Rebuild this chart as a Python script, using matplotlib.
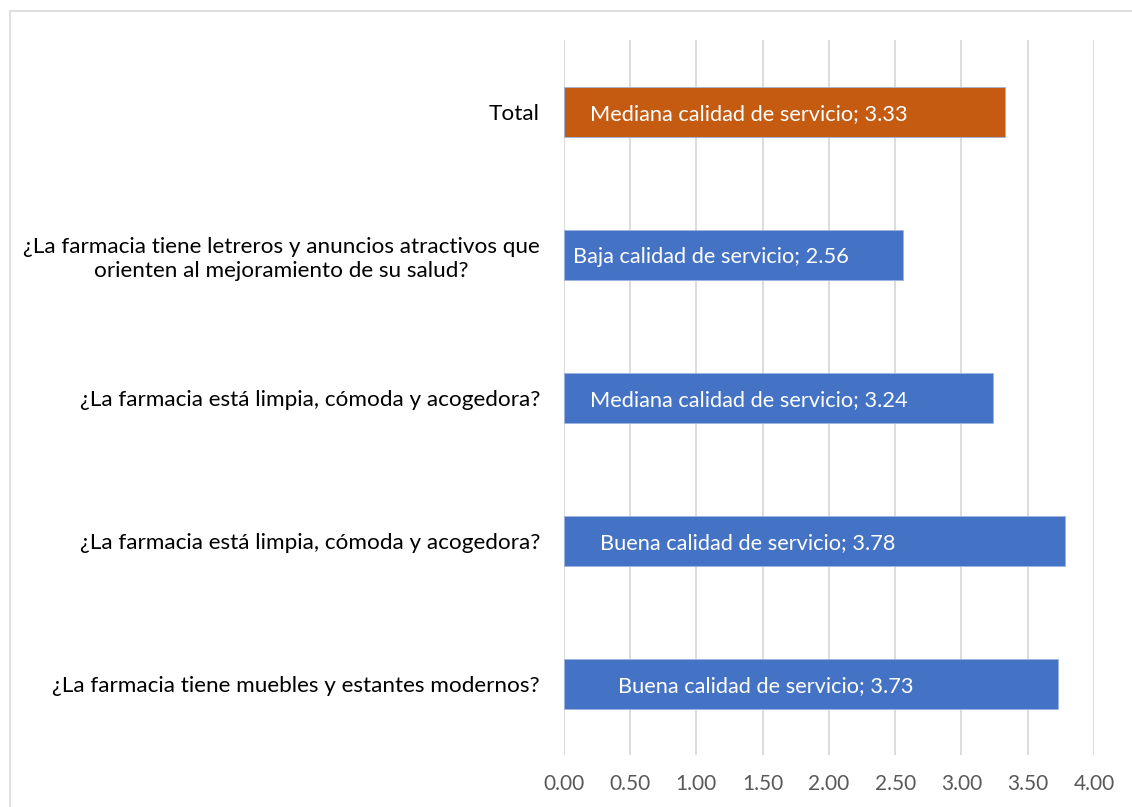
import matplotlib.pyplot as plt
from matplotlib.patches import Rectangle

# bottom to top order as drawn on the chart
categories = [
    "¿La farmacia tiene muebles y estantes modernos?",
    "¿La farmacia está limpia, cómoda y acogedora?",
    "¿La farmacia está limpia, cómoda y acogedora?",
    "¿La farmacia tiene letreros y anuncios atractivos que\norienten al mejoramiento de su salud?",
    "Total",
]
values = [3.73, 3.78, 3.24, 2.56, 3.33]
levels = [
    "Buena calidad de servicio",
    "Buena calidad de servicio",
    "Mediana calidad de servicio",
    "Baja calidad de servicio",
    "Mediana calidad de servicio",
]
label_x = [0.41, 0.27, 0.20, 0.07, 0.20]
ticks = [0, 0.5, 1, 1.5, 2, 2.5, 3, 3.5, 4]

BLUE = "#4472C4"
ORANGE = "#C55A11"
FONT = "Lato"

fig = plt.figure(figsize=(11.32, 8.07), dpi=100)
ax = fig.add_axes([0.498, 0.0644, 0.4685, 0.886])

colors = [BLUE] * (len(values) - 1) + [ORANGE]
ypos = list(range(len(values)))
ax.barh(ypos, values, height=0.35, color=colors, edgecolor="#9db4e0",
        linewidth=0.6, zorder=3)

for y, v, lvl, lx in zip(ypos, values, levels, label_x):
    ax.text(lx, y - 0.02, f"{lvl}; {v:.2f}", color="white", fontsize=15.7,
            family=FONT, va="center", ha="left", zorder=4)

ax.set_xlim(0, 4.0)
ax.set_ylim(-0.5, len(values) - 0.5)
ax.set_xticks(ticks)
ax.set_xticklabels([f"{t:.2f}" for t in ticks], family=FONT, fontsize=15,
                   color="#595959")
ax.set_yticks(ypos)
ax.set_yticklabels(categories, family=FONT, fontsize=16.2, color="#000000",
                   linespacing=1.25)
for lab in ax.get_yticklabels():
    lab.set_multialignment("center")

ax.tick_params(axis="both", length=0)
ax.tick_params(axis="x", pad=14)
ax.tick_params(axis="y", pad=17)
ax.grid(axis="x", color="#d9d9d9", linewidth=1.3, zorder=0)
for s in ax.spines.values():
    s.set_visible(False)

# chart area frame, open past the right and bottom edges
top = 1 - 11 / 807
fig.patches.append(Rectangle((10 / 1132, -0.05), 1.2, top + 0.05,
                             transform=fig.transFigure, fill=False,
                             edgecolor="#d9d9d9", linewidth=1.2))

fig.savefig("out.png", dpi=100)
